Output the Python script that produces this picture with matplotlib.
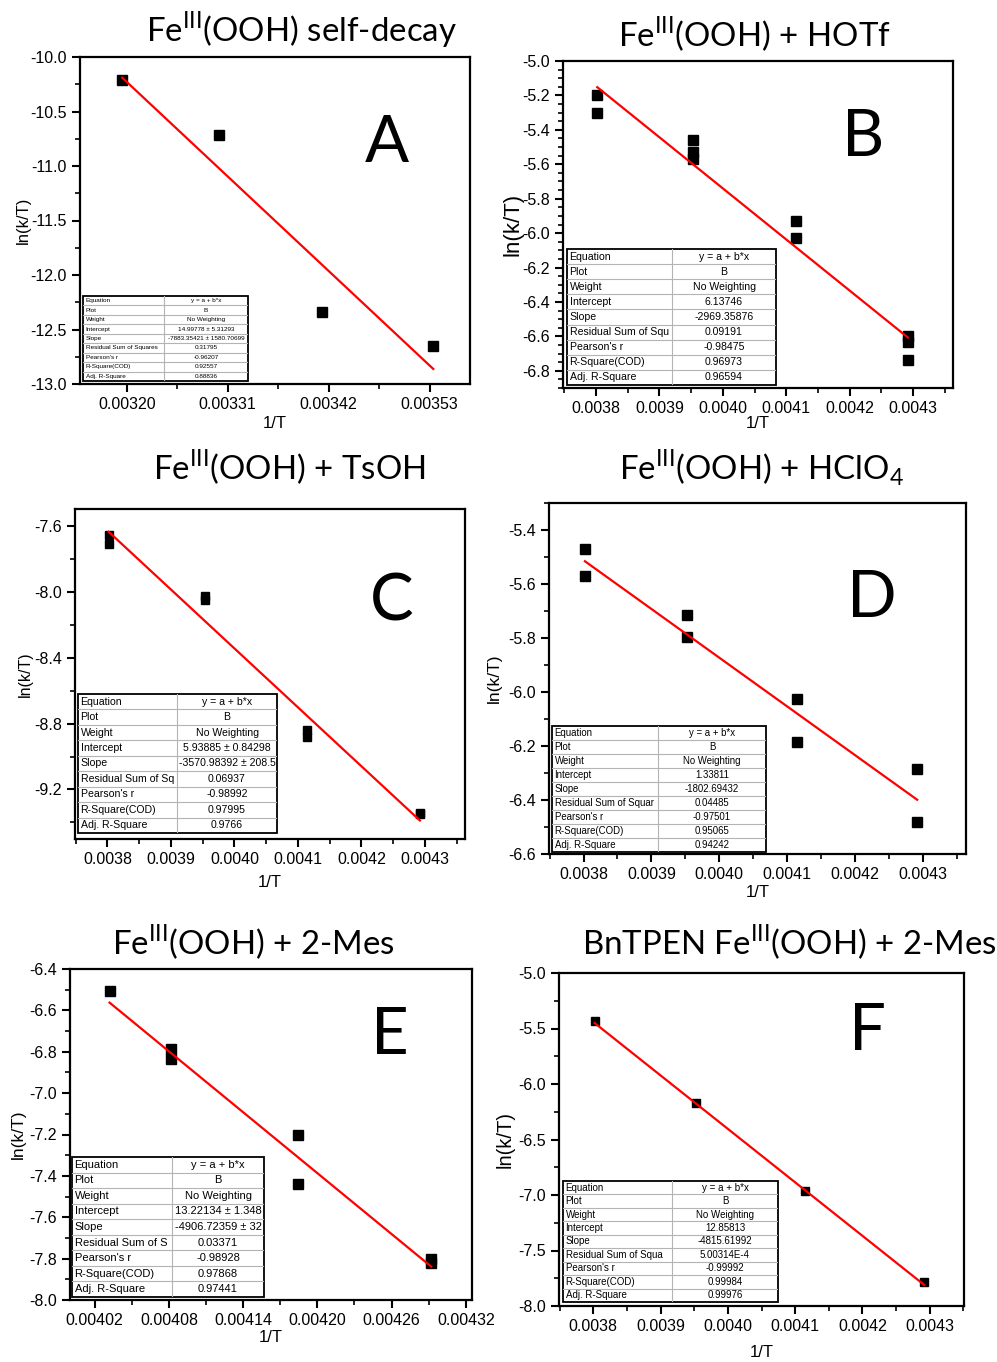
import numpy as np
import matplotlib
matplotlib.use('Agg')
import matplotlib.pyplot as plt
from matplotlib.ticker import AutoMinorLocator, FormatStrFormatter
from matplotlib.patches import Rectangle

plt.rcParams['font.family'] = ['Liberation Sans', 'DejaVu Sans']
plt.rcParams['mathtext.fontset'] = 'custom'
plt.rcParams['mathtext.rm'] = 'Lato'

W, H = 997, 1362

# ---- data (1/T, ln(k/T)) ----
A_x = [0.003195, 0.003300, 0.003413, 0.003534]
A_y = [-10.21, -10.72, -12.34, -12.65]

B_x = [0.003802, 0.003802, 0.003953, 0.003953, 0.003953, 0.004115, 0.004115, 0.004292, 0.004292, 0.004292]
B_y = [-5.20, -5.30, -5.46, -5.53, -5.57, -5.93, -6.03, -6.60, -6.63, -6.74]

C_x = [0.003802, 0.003802, 0.003953, 0.003953, 0.004115, 0.004115, 0.004292, 0.004292]
C_y = [-7.655, -7.715, -8.03, -8.05, -8.84, -8.88, -9.34, -9.35]

D_x = [0.003802, 0.003802, 0.003953, 0.003953, 0.004115, 0.004115, 0.004292, 0.004292]
D_y = [-5.47, -5.57, -5.715, -5.795, -6.025, -6.185, -6.285, -6.48]

E_x = [0.004032, 0.004082, 0.004082, 0.004184, 0.004184, 0.004292, 0.004292]
E_y = [-6.505, -6.785, -6.835, -7.20, -7.44, -7.80, -7.82]

F_x = [0.003802, 0.003953, 0.004115, 0.004292]
F_y = [-5.435, -6.17, -6.96, -7.78]

# linear fit parameters (intercept, slope) shown in the tables
fit_a = [14.99778, 6.13746, 5.93885, 1.33811, 13.22134, 12.85813]
fit_b = [-7883.35421, -2969.35876, -3570.98392, -1802.69432, -4906.72359, -4815.61992]

titles = [r'Fe$^{\mathregular{III}}$(OOH) self-decay',
          r'Fe$^{\mathregular{III}}$(OOH) + HOTf',
          r'Fe$^{\mathregular{III}}$(OOH) + TsOH',
          r'Fe$^{\mathregular{III}}$(OOH) + HClO$_{\mathregular{4}}$',
          r'Fe$^{\mathregular{III}}$(OOH) + 2-Mes',
          r'BnTPEN Fe$^{\mathregular{III}}$(OOH) + 2-Mes']
letters = ['A', 'B', 'C', 'D', 'E', 'F']

xticks = [[0.00320, 0.00331, 0.00342, 0.00353],
          [0.0038, 0.0039, 0.0040, 0.0041, 0.0042, 0.0043],
          [0.0038, 0.0039, 0.0040, 0.0041, 0.0042, 0.0043],
          [0.0038, 0.0039, 0.0040, 0.0041, 0.0042, 0.0043],
          [0.00402, 0.00408, 0.00414, 0.00420, 0.00426, 0.00432],
          [0.0038, 0.0039, 0.0040, 0.0041, 0.0042, 0.0043]]
yticks = [[-13.0, -12.5, -12.0, -11.5, -11.0, -10.5, -10.0],
          [-6.8, -6.6, -6.4, -6.2, -6.0, -5.8, -5.6, -5.4, -5.2, -5.0],
          [-9.2, -8.8, -8.4, -8.0, -7.6],
          [-6.6, -6.4, -6.2, -6.0, -5.8, -5.6, -5.4],
          [-8.0, -7.8, -7.6, -7.4, -7.2, -7.0, -6.8, -6.6, -6.4],
          [-8.0, -7.5, -7.0, -6.5, -6.0, -5.5, -5.0]]

row_names = ['Equation', 'Plot', 'Weight', 'Intercept', 'Slope',
             'Residual Sum of Squares', "Pearson's r", 'R-Square(COD)', 'Adj. R-Square']
rss_names = ['Residual Sum of Squares', 'Residual Sum of Squ', 'Residual Sum of Sq',
             'Residual Sum of Squar', 'Residual Sum of S', 'Residual Sum of Squa']
intercept_txt = ['14.99778 \u00b1 5.31293', '6.13746', '5.93885 \u00b1 0.84298',
                 '1.33811', '13.22134 \u00b1 1.348', '12.85813']
slope_txt = ['-7883.35421 \u00b1 1580.70699', '-2969.35876', '-3570.98392 \u00b1 208.5',
             '-1802.69432', '-4906.72359 \u00b1 32', '-4815.61992']
rss_txt = ['0.31795', '0.09191', '0.06937', '0.04485', '0.03371', '5.00314E-4']
pearson_txt = ['-0.96207', '-0.98475', '-0.98992', '-0.97501', '-0.98928', '-0.99992']
r2_txt = ['0.92557', '0.96973', '0.97995', '0.95065', '0.97868', '0.99984']
adj_r2_txt = ['0.88836', '0.96594', '0.9766', '0.94242', '0.97441', '0.99976']

# ---- layout (pixels: left, top, right, bottom) ----
ax_px = [(80, 57, 470, 384), (563, 61, 953, 388), (75, 509, 465, 839),
         (549, 503, 966, 854), (70, 969, 472, 1300), (559, 973, 964, 1306)]
xlims = [(0.003149, 0.003574), (0.003748, 0.004363), (0.003749, 0.004363),
         (0.003749, 0.004364), (0.0040, 0.004325), (0.003749, 0.004351)]
ylims = [(-13.0, -10.0), (-6.9, -5.0), (-9.5, -7.5), (-6.6, -5.3), (-8.0, -6.4), (-8.0, -5.0)]
xfmt = ['%.5f', '%.4f', '%.4f', '%.4f', '%.5f', '%.4f']
ms = [7.5, 7.5, 6, 7, 7, 5.5]
ylab_fs = [12, 16, 11.5, 12.5, 12.5, 14.5]
ylab_x = [-0.146, -0.128, -0.128, -0.13, -0.129, -0.133]
xlab_y = [-0.12, -0.11, -0.133, -0.111, -0.112, -0.141]
title_pos = [(302, 42), (754, 47), (289, 480), (762, 480), (253, 955), (789, 955)]
letter_pos = [(387, 143), (863, 138), (392, 602), (872, 598), (390, 1035), (867, 1032)]
tab_px = [(83, 296, 248, 381, 164, 4.6), (567, 249, 776, 385, 672, 7.6),
          (78, 694, 277, 833, 177, 7.6), (552, 726, 766, 852, 658, 6.9),
          (72, 1157, 264, 1297, 172, 8.0), (563, 1181, 778, 1302, 672, 7.0)]


def fig_box(l, t, r, b):
    return [l / W, 1 - b / H, (r - l) / W, (b - t) / H]


def draw_table(fig, spec, values, names):
    l, t, r, b, div, fs = spec
    tax = fig.add_axes(fig_box(l, t, r, b))
    w, h = r - l, b - t
    tax.set_xlim(0, w)
    tax.set_ylim(h, 0)
    tax.axis('off')
    n = len(names)
    rh = h / n
    tax.add_patch(Rectangle((0, 0), w, h, facecolor='white', edgecolor='none'))
    for i in range(1, n):
        tax.plot([0, w], [i * rh, i * rh], color='#b4b4b4', lw=0.8)
    tax.plot([div - l, div - l], [0, h], color='#b4b4b4', lw=0.8)
    tax.add_patch(Rectangle((0, 0), w, h, facecolor='none', edgecolor='black', lw=1.3,
                            clip_on=False))
    for i, (nm, val) in enumerate(zip(names, values)):
        yc = (i + 0.5) * rh
        tax.text(2.5, yc, nm, fontsize=fs, ha='left', va='center')
        tax.text((div - l + w) / 2, yc, val, fontsize=fs, ha='center', va='center')


fig = plt.figure(figsize=(W / 100, H / 100), dpi=100)

xs = [A_x, B_x, C_x, D_x, E_x, F_x]
ys = [A_y, B_y, C_y, D_y, E_y, F_y]

for i in range(6):
    ax = fig.add_axes(fig_box(*ax_px[i]))
    x = np.array(xs[i])
    ax.plot(x, ys[i], 's', color='black', ms=ms[i], zorder=3)
    xf = np.array([x.min(), x.max()])
    ax.plot(xf, fit_a[i] + fit_b[i] * xf, color='red', lw=1.6, zorder=4)

    ax.set_xlim(*xlims[i])
    ax.set_ylim(*ylims[i])
    ax.set_xticks(xticks[i])
    ax.set_yticks(yticks[i])
    ax.xaxis.set_major_formatter(FormatStrFormatter(xfmt[i]))
    ax.yaxis.set_major_formatter(FormatStrFormatter('%.1f'))
    ax.xaxis.set_minor_locator(AutoMinorLocator(2))
    ax.yaxis.set_minor_locator(AutoMinorLocator(4 if i == 1 else 2))
    ax.tick_params(which='major', direction='out', length=6, width=1.5, labelsize=11.5)
    ax.tick_params(which='minor', direction='out', length=3.5, width=1.2)
    for sp in ax.spines.values():
        sp.set_linewidth(1.6)

    ax.set_ylabel('ln(k/T)', fontsize=ylab_fs[i])
    ax.yaxis.label.set_va('center')
    ax.yaxis.set_label_coords(ylab_x[i], 0.5)
    ax.set_xlabel('1/T', fontsize=12)
    ax.xaxis.label.set_va('center')
    ax.xaxis.set_label_coords(0.5, xlab_y[i])

    tx, ty = title_pos[i]
    fig.text(tx / W, 1 - ty / H, titles[i], fontsize=23.8, family='Lato',
             ha='center', va='baseline')
    lx, ly = letter_pos[i]
    fig.text(lx / W, 1 - ly / H, letters[i], fontsize=47, family='Lato',
             ha='center', va='center')

    vals = ['y = a + b*x', 'B', 'No Weighting', intercept_txt[i], slope_txt[i],
            rss_txt[i], pearson_txt[i], r2_txt[i], adj_r2_txt[i]]
    names = list(row_names)
    names[5] = rss_names[i]
    draw_table(fig, tab_px[i], vals, names)

fig.savefig('out.png', dpi=100)
